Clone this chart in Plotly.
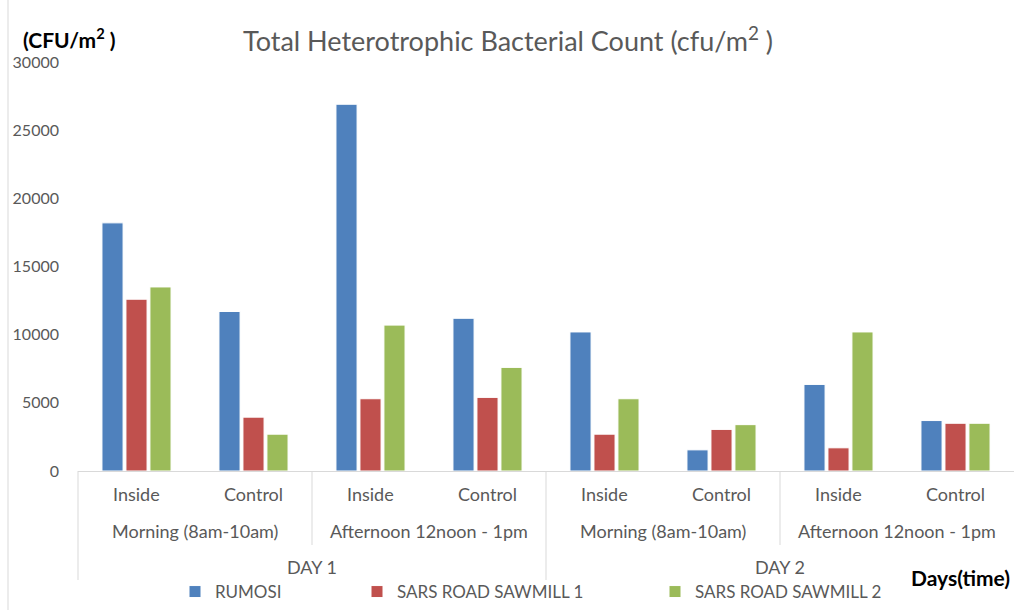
import plotly.graph_objects as go

# ---- data ----
inner_labels = ["Inside", "Control", "Inside", "Control", "Inside", "Control", "Inside", "Control"]
period_labels = ["Morning (8am-10am)", "Afternoon 12noon - 1pm", "Morning (8am-10am)", "Afternoon 12noon - 1pm"]
day_labels = ["DAY 1", "DAY 2"]
series_names = ["RUMOSI", "SARS ROAD SAWMILL 1", "SARS ROAD SAWMILL 2"]
rumosi = [18200, 11700, 26900, 11200, 10200, 1550, 6350, 3700]
sars1 = [12600, 3950, 5300, 5400, 2700, 3050, 1700, 3500]
sars2 = [13500, 2700, 10700, 7600, 5300, 3400, 10200, 3500]
y_ticks = [0, 5000, 10000, 15000, 20000, 25000, 30000]

colors = ["#4F81BD", "#C0504D", "#9BBB59"]
FONT = "Lato"
GRAY = "#595959"
LINE = "#d9d9d9"

n = len(inner_labels)
xs = list(range(n))

W, H = 1016, 610
ml, mr, mt, mb = 78, 2, 62, 139
pw, ph = W - ml - mr, H - mt - mb

def py(pix):
    return (H - mb - pix) / ph

def px(pix):
    return (pix - ml) / pw

legend_keys = ["legend", "legend2", "legend3"]
legend_left_px = [175, 357, 655]

fig = go.Figure()
for name, vals, c, lk in zip(series_names, [rumosi, sars1, sars2], colors, legend_keys):
    fig.add_trace(go.Bar(x=xs, y=vals, name=name, legend=lk, showlegend=True,
                         marker=dict(color=c, line=dict(color="white", width=1))))

annotations = []
lab_font = dict(family=FONT, size=18, color=GRAY)
for i, t in enumerate(inner_labels):
    annotations.append(dict(x=i, y=py(494), xref="x", yref="paper", text=t, showarrow=False,
                            font=lab_font, yanchor="middle"))
per = n // len(period_labels)
for j, t in enumerate(period_labels):
    annotations.append(dict(x=j * per + (per - 1) / 2, y=py(531), xref="x", yref="paper", text=t,
                            showarrow=False, font=lab_font, yanchor="middle"))
dper = n // len(day_labels)
for j, t in enumerate(day_labels):
    annotations.append(dict(x=j * dper + (dper - 1) / 2, y=py(567), xref="x", yref="paper", text=t,
                            showarrow=False, font=lab_font, yanchor="middle"))

annotations.append(dict(x=px(21), y=py(38), xref="paper", yref="paper", text="<b>(CFU/m<sup>2</sup> )</b>",
                        showarrow=False, xanchor="left", yanchor="middle",
                        font=dict(family=FONT, size=21, color="black")))
annotations.append(dict(x=px(1012), y=py(577), xref="paper", yref="paper", text="<b>Days(time)</b>",
                        showarrow=False, xanchor="right", yanchor="middle",
                        font=dict(family=FONT, size=21, color="black")))

shapes = []
# period dividers
for j in range(1, len(period_labels)):
    if j * per % dper == 0:
        continue
    xp = (j * per) / n
    shapes.append(dict(type="line", xref="paper", yref="paper", x0=xp, x1=xp, y0=0, y1=py(545),
                       line=dict(color=LINE, width=1)))
# day dividers + left edge
for j in range(0, len(day_labels)):
    xp = (j * dper) / n
    shapes.append(dict(type="line", xref="paper", yref="paper", x0=xp, x1=xp, y0=0, y1=py(580),
                       line=dict(color=LINE, width=1)))
# outer frame line
shapes.append(dict(type="line", xref="paper", yref="paper", x0=px(8), x1=px(8), y0=py(0), y1=py(610),
                   line=dict(color=LINE, width=1)))

leg_common = dict(orientation="h", yanchor="middle", y=py(592), xanchor="left", visible=True,
                  font=dict(family=FONT, size=17, color=GRAY), itemwidth=30, bgcolor="rgba(0,0,0,0)")

fig.update_layout(
    width=W, height=H,
    showlegend=True,
    margin=dict(l=ml, r=mr, t=mt, b=mb, autoexpand=False),
    paper_bgcolor="white", plot_bgcolor="white",
    barmode="group", bargap=0.385, bargroupgap=0.12,
    title=dict(text="Total Heterotrophic Bacterial Count (cfu/m<sup>2</sup> )", x=0.5, xref="container",
               y=1 - 42 / H, yref="container", yanchor="middle", xanchor="center",
               font=dict(family=FONT, size=27, color=GRAY)),
    xaxis=dict(range=[-0.5, n - 0.5], showticklabels=False, showgrid=False, zeroline=False,
               showline=True, linecolor=LINE, linewidth=1, ticks=""),
    yaxis=dict(range=[0, 30000], tickvals=y_ticks, ticktext=[str(v) for v in y_ticks],
               showgrid=False, zeroline=False, showline=False,
               tickfont=dict(family=FONT, size=16, color=GRAY), ticklabelstandoff=18),
    legend=dict(x=px(legend_left_px[0]), **leg_common),
    legend2=dict(x=px(legend_left_px[1]), **leg_common),
    legend3=dict(x=px(legend_left_px[2]), **leg_common),
    annotations=annotations, shapes=shapes,
    font=dict(family=FONT, color=GRAY),
)

fig.write_html("out.html", config={"displayModeBar": False},
               post_script="document.body.style.margin='0';document.body.style.overflow='hidden';")
